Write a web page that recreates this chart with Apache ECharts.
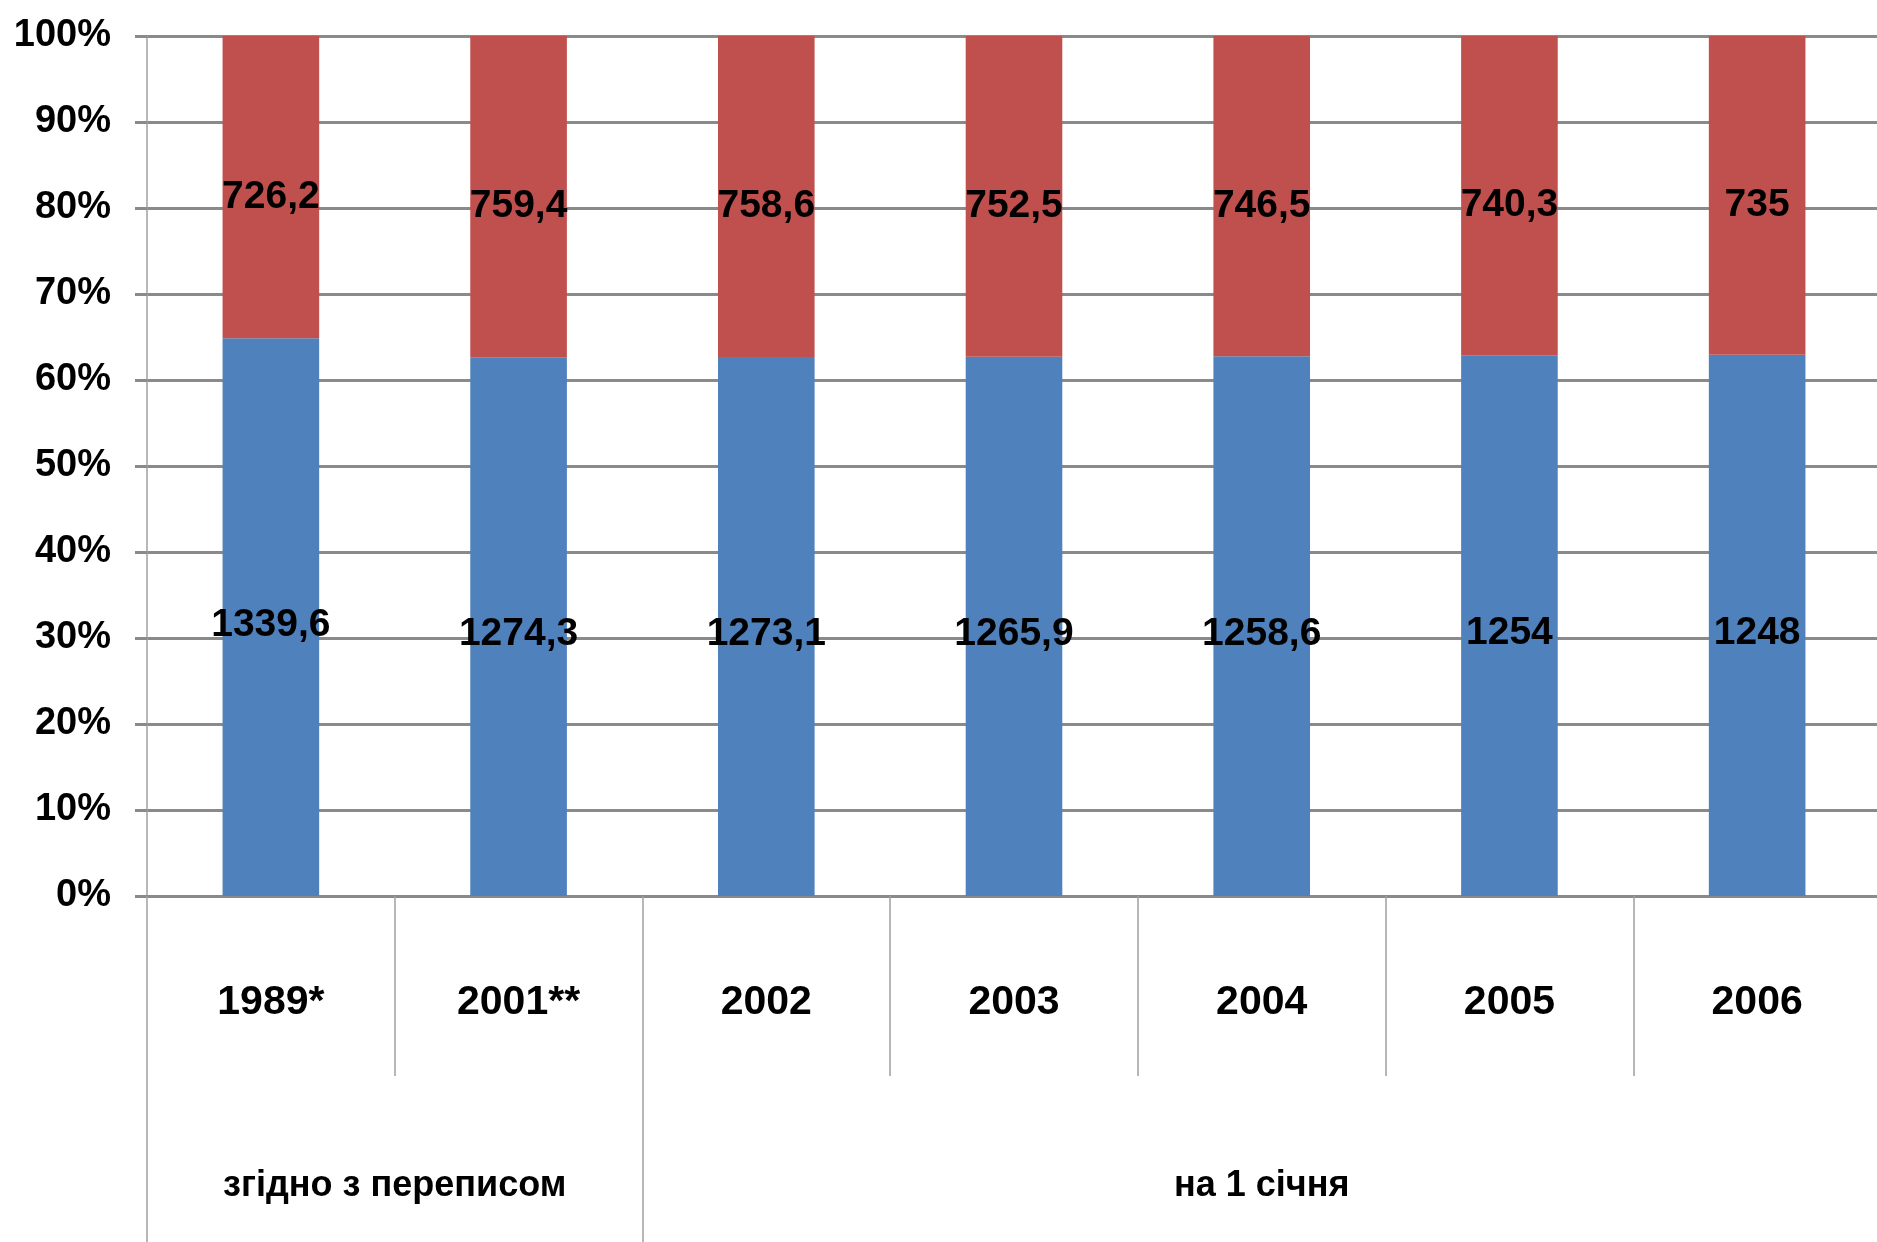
<!DOCTYPE html>
<html>
<head>
<meta charset="utf-8">
<script src="https://cdn.jsdelivr.net/npm/echarts@6/dist/echarts.min.js"></script>
<style>
html,body{margin:0;padding:0;background:#fff;}
#chart{width:1877px;height:1242px;}
</style>
</head>
<body>
<div id="chart"></div>
<script>
const categories = ['1989*', '2001**', '2002', '2003', '2004', '2005', '2006'];
const seriesA = [1339.6, 1274.3, 1273.1, 1265.9, 1258.6, 1254, 1248];
const seriesB = [726.2, 759.4, 758.6, 752.5, 746.5, 740.3, 735];
const groupNames = ['згідно з переписом', 'на 1 січня'];
const groupSpans = [2, 5];
const yTicks = [0, 10, 20, 30, 40, 50, 60, 70, 80, 90, 100];

const FONT = "'Liberation Sans Narrow', 'Liberation Sans', Arial, sans-serif";
const fmtNum = v => String(v).replace('.', ',');

const totals = seriesA.map((v, i) => v + seriesB[i]);
const pctA = seriesA.map((v, i) => v / totals[i] * 100);
const pctB = seriesB.map((v, i) => v / totals[i] * 100);

// group boundaries & centres on a 0..N value axis
const bounds = [0];
groupSpans.forEach(s => bounds.push(bounds[bounds.length - 1] + s));
const centres = groupSpans.map((s, i) => bounds[i] + s / 2);

const chart = echarts.init(document.getElementById('chart'));
const labelStyle = {
  show: true,
  position: 'inside',
  color: '#000',
  fontFamily: FONT,
  fontWeight: 'bold',
  fontSize: 39
};
chart.setOption({
  animation: false,
  backgroundColor: '#fff',
  grid: { left: 147, top: 36, width: 1734, bottom: 346, containLabel: false, outerBoundsMode: 'none' },
  xAxis: [
    {
      type: 'category',
      data: categories,
      position: 'bottom',
      axisLine: { show: true, lineStyle: { color: '#8a8a8a', width: 3 } },
      axisTick: { show: true, interval: 0, alignWithLabel: false, length: 180, lineStyle: { color: '#a0a0a0', width: 1.5 } },
      axisLabel: { interval: 0, margin: 86, color: '#000', fontFamily: FONT, fontWeight: 'bold', fontSize: 41 },
      splitLine: { show: false }
    },
    {
      type: 'value',
      min: 0,
      max: categories.length,
      position: 'bottom',
      offset: 180,
      axisLine: { show: false },
      axisTick: { show: true, customValues: bounds, length: 200, lineStyle: { color: '#a0a0a0', width: 1.5 } },
      axisLabel: {
        customValues: centres,
        margin: 92,
        color: '#000',
        fontFamily: FONT,
        fontWeight: 'bold',
        fontSize: 36,
        formatter: v => {
          const idx = centres.indexOf(v);
          return idx >= 0 ? groupNames[idx] : '';
        }
      },
      splitLine: { show: false }
    }
  ],
  yAxis: {
    type: 'value',
    min: 0,
    max: 100,
    interval: 10,
    axisLine: { show: true, lineStyle: { color: '#a0a0a0', width: 1.5 } },
    axisTick: { show: true, length: 12, lineStyle: { color: '#8a8a8a', width: 3 } },
    axisLabel: {
      margin: 36,
      color: '#000',
      fontFamily: FONT,
      fontWeight: 'bold',
      fontSize: 38,
      formatter: v => yTicks.includes(v) ? v + '%' : ''
    },
    splitLine: { show: true, lineStyle: { color: '#8a8a8a', width: 3 } }
  },
  series: [
    {
      name: 'A',
      type: 'bar',
      stack: 'total',
      xAxisIndex: 0,
      barWidth: '39%',
      data: pctA,
      itemStyle: { color: '#4F81BD' },
      label: Object.assign({}, labelStyle, { offset: [0, 8], formatter: p => fmtNum(seriesA[p.dataIndex]) })
    },
    {
      name: 'B',
      type: 'bar',
      stack: 'total',
      xAxisIndex: 0,
      barWidth: '39%',
      data: pctB,
      itemStyle: { color: '#C0504D' },
      label: Object.assign({}, labelStyle, { offset: [0, 10], formatter: p => fmtNum(seriesB[p.dataIndex]) })
    }
  ]
});
</script>
</body>
</html>
